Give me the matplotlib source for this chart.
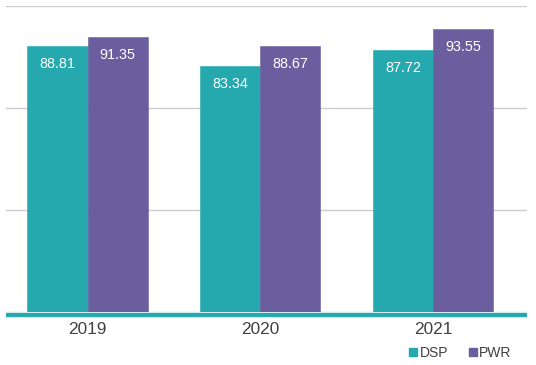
import matplotlib
matplotlib.use("Agg")
import matplotlib.pyplot as plt
import matplotlib.transforms as mtransforms
from matplotlib.lines import Line2D
import numpy as np

categories = ["2019", "2020", "2021"]
dsp = [88.81, 83.34, 87.72]
pwr = [91.35, 88.67, 93.55]
series_names = ["DSP", "PWR"]

TEAL = "#25A9AF"
PURPLE = "#6B5E9F"

plt.rcParams["font.family"] = ["Liberation Sans", "DejaVu Sans"]

fig = plt.figure(figsize=(5.36, 3.65), dpi=100)
ax = fig.add_axes([6/536, 52.7/365, 521/536, (312.3-6)/365])

ymin, ymax = 14.3, 100.0
x = np.arange(len(categories))
w = 0.348
b1 = ax.bar(x - w/2, dsp, width=w, color=TEAL, edgecolor=TEAL, linewidth=0.4, zorder=2)
b2 = ax.bar(x + w/2, pwr, width=w, color=PURPLE, edgecolor=PURPLE, linewidth=0.4, zorder=2)

for bars, vals in ((b1, dsp), (b2, pwr)):
    for r, v in zip(bars, vals):
        ax.annotate(f"{v:.2f}", (r.get_x() + r.get_width()/2, v),
                    xytext=(0, -18), textcoords="offset pixels",
                    ha="center", va="center", color="white", fontsize=10.4, zorder=3)

ax.set_xlim(-0.472, 2.544)
ax.set_ylim(ymin, ymax)
ax.set_yticks(np.linspace(ymin, ymax, 4))
ax.yaxis.grid(True, color="#cccccc", linewidth=1.0, zorder=0)
ax.set_axisbelow(True)
ax.tick_params(axis="y", left=False, labelleft=False)
ax.tick_params(axis="x", length=0, pad=7, labelsize=12.4, labelcolor="#404040")
ax.set_xticks(x)
ax.set_xticklabels(categories)
for s in ax.spines.values():
    s.set_visible(False)

# thick teal baseline just below the plot area
tr = mtransforms.offset_copy(ax.transAxes, fig=fig, y=-2.2, units="dots")
ax.plot([0, 1], [0, 0], transform=tr, color=TEAL, linewidth=4.4*72/100,
        solid_capstyle="butt", clip_on=False, zorder=4)

handles = [Line2D([], [], marker="s", linestyle="none", color=TEAL, markersize=6),
           Line2D([], [], marker="s", linestyle="none", color=PURPLE, markersize=6)]
fig.legend(handles, series_names, loc="center right", bbox_to_anchor=(0.978, 0.034),
           ncol=2, frameon=False, fontsize=10, handletextpad=0.05, columnspacing=1.4,
           handlelength=0.8, labelcolor="#404040")

fig.savefig("out.png", dpi=100, facecolor="white")
